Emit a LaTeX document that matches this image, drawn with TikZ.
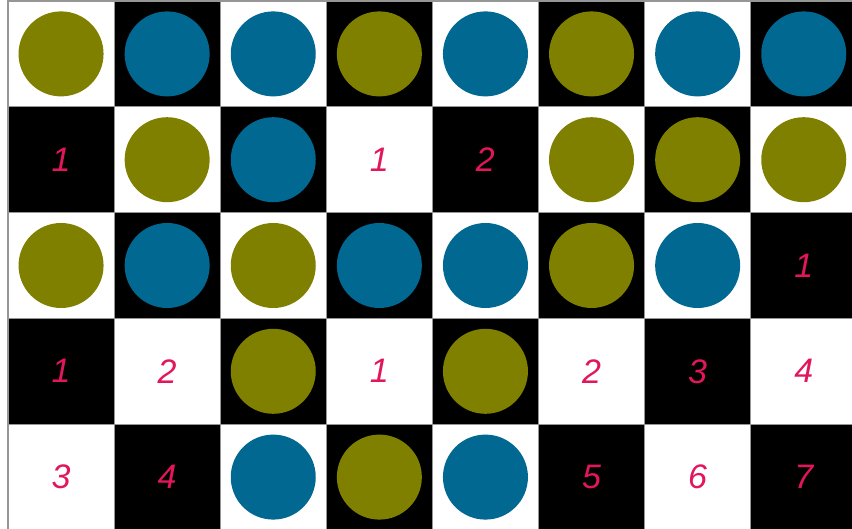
\documentclass[tikz,border=0pt]{standalone}
\usepackage{fontspec}
\setmainfont{Liberation Sans}
\definecolor{olivedot}{RGB}{128,128,0}
\definecolor{bluedot}{RGB}{0,104,145}
\definecolor{numred}{RGB}{226,22,92}
\definecolor{edgegray}{RGB}{150,150,150}
\begin{document}
\begin{tikzpicture}[x=1pt,y=-1pt,
  whitecell/.style={fill=white,draw=edgegray,line width=1.2pt},
  blackcell/.style={fill=black,draw=edgegray,line width=1.2pt},
  olivestone/.style={circle,fill=olivedot,minimum size=85pt,inner sep=0pt},
  bluestone/.style={circle,fill=bluedot,minimum size=85pt,inner sep=0pt},
  num/.style={text=numred,font=\fontsize{34}{34}\selectfont\itshape}]
\useasboundingbox (0,0) rectangle (852,529);
\fill[white] (0,0) rectangle (852,529);
\def\cw{106.1}
\def\ch{105.8}
% cells
\foreach \r in {0,...,4}{
  \foreach \c in {0,...,7}{
    \pgfmathtruncatemacro\cellparity{mod(\r+\c,2)}
    \ifnum\cellparity=0
      \path[whitecell] ({8+\c*\cw},{1+\r*\ch}) rectangle ({8+(\c+1)*\cw},{1+(\r+1)*\ch});
    \else
      \path[blackcell] ({8+\c*\cw},{1+\r*\ch}) rectangle ({8+(\c+1)*\cw},{1+(\r+1)*\ch});
    \fi
  }
}
% contents: o = olive, b = blue, digits = numbers
\foreach \r/\row in {0/{o,b,b,o,b,o,b,b},1/{1,o,b,1,2,o,o,o},2/{o,b,o,b,b,o,b,1},3/{1,2,o,1,o,2,3,4},4/{3,4,b,o,b,5,6,7}}{
  \foreach \v [count=\k from 0] in \row {
    \def\tmpo{o}\def\tmpb{b}\edef\vv{\v}
    \ifx\vv\tmpo
      \node[olivestone] (s-\r-\k) at ({8+(\k+0.5)*\cw},{1+(\r+0.5)*\ch}) {};
    \else\ifx\vv\tmpb
      \node[bluestone] (s-\r-\k) at ({8+(\k+0.5)*\cw},{1+(\r+0.5)*\ch}) {};
    \else
      \node[num] (s-\r-\k) at ({8+(\k+0.5)*\cw},{1+(\r+0.5)*\ch}) {\v};
    \fi\fi
  }
}
\end{tikzpicture}
\end{document}
